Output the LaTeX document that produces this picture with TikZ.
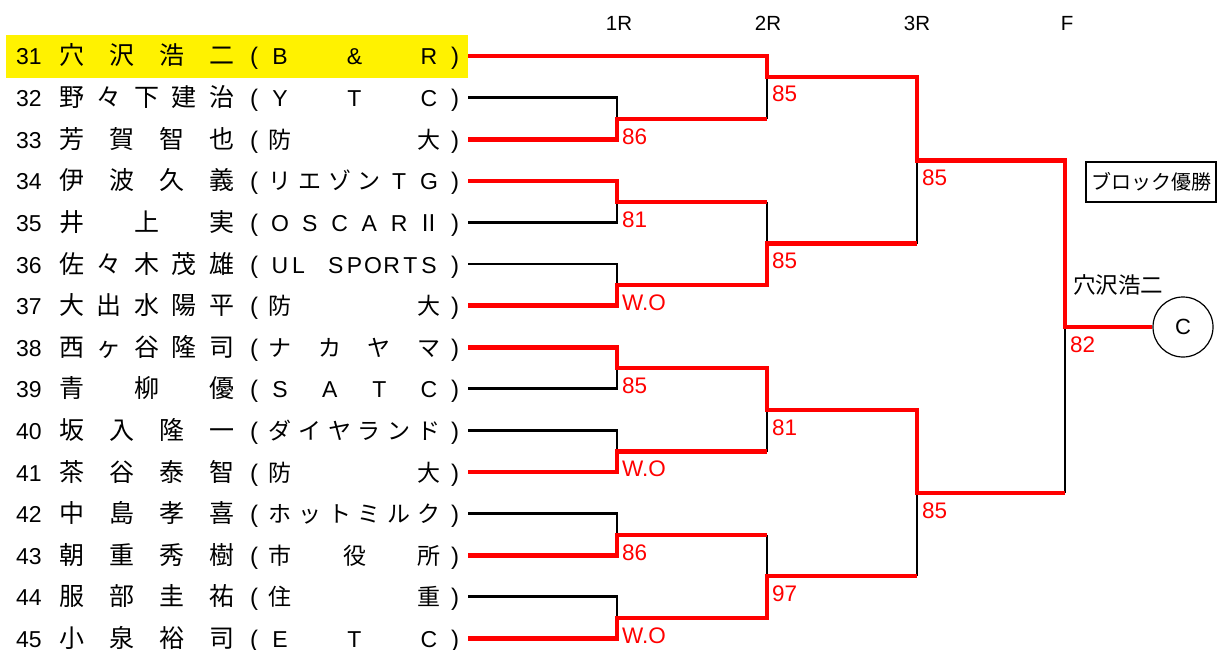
\documentclass[tikz,border=0pt]{standalone}
\usepackage{fontspec}
\setmainfont{Liberation Sans}
\newfontfamily\jp{Noto Sans CJK JP}
\newcommand\lat{\rmfamily}
\tikzset{
  redline/.style={draw=red, line width=4.6pt},
  blkline/.style={draw=black, line width=2.8pt},
  score/.style={text=red, font=\fontsize{22.5}{22.5}\selectfont, anchor=base west, inner sep=0pt},
  num/.style={font=\fontsize{23}{23}\selectfont, anchor=base, inner sep=0pt},
  nm/.style={font=\jp\fontsize{25}{25}\selectfont, anchor=base, inner sep=0pt},
  tl/.style={font=\fontsize{23}{23}\selectfont, anchor=base, inner sep=0pt},
  tj/.style={font=\jp\fontsize{23}{23}\selectfont, anchor=base, inner sep=0pt},
  par/.style={font=\fontsize{24}{24}\selectfont, anchor=base, inner sep=0pt},
  head/.style={font=\fontsize{20.5}{20.5}\selectfont, anchor=base, inner sep=0pt},
}
\newcommand\spreadrow[7]{% style, prefix, n, x0, x1, y, list
  \foreach \ch [count=\k] in {#7}{%
    \pgfmathsetmacro\xx{#4+(\k-1)*(#5-#4)/(#3-1)}%
    \node[#1] (#2-\k) at (\xx,#6) {\ch};
  }}
\newcommand\entrant[6]{% number, name n, name list, team style, team n, team list
  \pgfmathsetmacro\yb{56+(#1-31)*41.6+9}%
  \node[num] (no#1) at (29,\yb) {#1};
  \spreadrow{nm}{nm#1}{#2}{71.5}{221.5}{\yb}{#3}
  \node[par] (lp#1) at (254,\yb) {(};
  \spreadrow{#4}{tm#1}{#5}{280}{429}{\yb}{#6}
  \node[par] (rp#1) at (455,\yb) {)};
}
\begin{document}
\begin{tikzpicture}[x=1pt,y=-1pt]
\useasboundingbox (0,0) rectangle (1220,650);
% highlight
\fill[yellow] (6,35) rectangle (468,78);
% headers
\node[head] (h1) at (619,30.5) {1R};
\node[head] (h2) at (768,30.5) {2R};
\node[head] (h3) at (917,30.5) {3R};
\node[head] (h4) at (1067,30.5) {F};
% entrants
\entrant{31}{4}{穴,沢,浩,二}{tl}{3}{B,\&,R}
\entrant{32}{5}{野,々,下,建,治}{tl}{3}{Y,T,C}
\entrant{33}{4}{芳,賀,智,也}{tj}{2}{防,大}
\entrant{34}{4}{伊,波,久,義}{tj}{6}{リ,エ,ゾ,ン,{\lat T},{\lat G}}
\entrant{35}{3}{井,上,実}{tl}{6}{O,S,C,A,R,{\jp Ⅱ}}
\entrant{36}{5}{佐,々,木,茂,雄}{tl}{9}{U,L,{},S,P,O,R,T,S}
\entrant{37}{5}{大,出,水,陽,平}{tj}{2}{防,大}
\entrant{38}{5}{西,ヶ,谷,隆,司}{tj}{4}{ナ,カ,ヤ,マ}
\entrant{39}{3}{青,柳,優}{tl}{4}{S,A,T,C}
\entrant{40}{4}{坂,入,隆,一}{tj}{6}{ダ,イ,ヤ,ラ,ン,ド}
\entrant{41}{4}{茶,谷,泰,智}{tj}{2}{防,大}
\entrant{42}{4}{中,島,孝,喜}{tj}{6}{ホ,ッ,ト,ミ,ル,ク}
\entrant{43}{4}{朝,重,秀,樹}{tj}{3}{市,役,所}
\entrant{44}{4}{服,部,圭,祐}{tj}{2}{住,重}
\entrant{45}{4}{小,泉,裕,司}{tl}{3}{E,T,C}
% bracket coordinates
\foreach \i in {31,...,45} \coordinate (e\i) at (468,{56+(\i-31)*41.6});
\coordinate (a1) at (617,119);
\coordinate (a2) at (617,202);
\coordinate (a3) at (617,285);
\coordinate (a4) at (617,368);
\coordinate (a5) at (617,451.5);
\coordinate (a6) at (617,535);
\coordinate (a7) at (617,618);
\coordinate (b1) at (767,77);
\coordinate (b2) at (767,243.5);
\coordinate (b3) at (767,410);
\coordinate (b4) at (767,576);
\coordinate (c1) at (917,160.5);
\coordinate (c2) at (917,493);
\coordinate (d1) at (1065,327);
% champion
\node[circle, draw, line width=1.2pt, minimum size=60pt, inner sep=0pt, font=\fontsize{22}{22}\selectfont] (champ) at (1183,327) {C};
\node[font=\jp\fontsize{22.5}{22.5}\selectfont, anchor=base, inner sep=0pt] (wname) at (1118,293.5) {穴沢浩二};
\node[draw, line width=2.2pt, minimum width=130pt, minimum height=40pt, inner sep=0pt, font=\jp\fontsize{20}{20}\selectfont] (blk) at (1151,182) {ブロック優勝};
% black lines
\draw[blkline] (e32) -| (a1);
\draw[blkline] (e35) -| (a2);
\draw[blkline] (e36) -| (a3);
\draw[blkline] (e39) -| (a4);
\draw[blkline] (e40) -| (a5);
\draw[blkline] (e42) -| (a6);
\draw[blkline] (e44) -| (a7);
\draw[blkline] (b1) -- (a1 -| b1);
\draw[blkline] (a2 -| b2) -- (b2);
\draw[blkline] (b3) -- (a5 -| b3);
\draw[blkline] (a6 -| b4) -- (b4);
\draw[blkline] (c1) -- (b2 -| c1);
\draw[blkline] (c2) -- (b4 -| c2);
\draw[blkline] (d1) -- (c2 -| d1);
% red lines
\draw[redline] (e31) -| (b1) -| (c1) -| (d1) -- (champ.west);
\draw[redline] (e33) -| (a1) -- (a1 -| b1);
\draw[redline] (e34) -| (a2) -- (a2 -| b2);
\draw[redline] (e37) -| (a3) -| (b2) -- (b2 -| c1);
\draw[redline] (e38) -| (a4) -| (b3) -| (c2) -- (c2 -| d1);
\draw[redline] (e41) -| (a5) -- (a5 -| b3);
\draw[redline] (e43) -| (a6) -- (a6 -| b4);
\draw[redline] (e45) -| (a7) -| (b4) -- (b4 -| c2);
% scores
\node[score] (s1) at ([shift={(5,25)}]a1) {86};
\node[score] (s2) at ([shift={(5,25)}]a2) {81};
\node[score] (s3) at ([shift={(5,25)}]a3) {W.O};
\node[score] (s4) at ([shift={(5,25)}]a4) {85};
\node[score] (s5) at ([shift={(5,25)}]a5) {W.O};
\node[score] (s6) at ([shift={(5,25)}]a6) {86};
\node[score] (s7) at ([shift={(5,25)}]a7) {W.O};
\node[score] (s8) at ([shift={(5,25)}]b1) {85};
\node[score] (s9) at ([shift={(5,25)}]b2) {85};
\node[score] (s10) at ([shift={(5,25)}]b3) {81};
\node[score] (s11) at ([shift={(5,25)}]b4) {97};
\node[score] (s12) at ([shift={(5,25)}]c1) {85};
\node[score] (s13) at ([shift={(5,25)}]c2) {85};
\node[score] (s14) at ([shift={(5,25)}]d1) {82};
\end{tikzpicture}
\end{document}
